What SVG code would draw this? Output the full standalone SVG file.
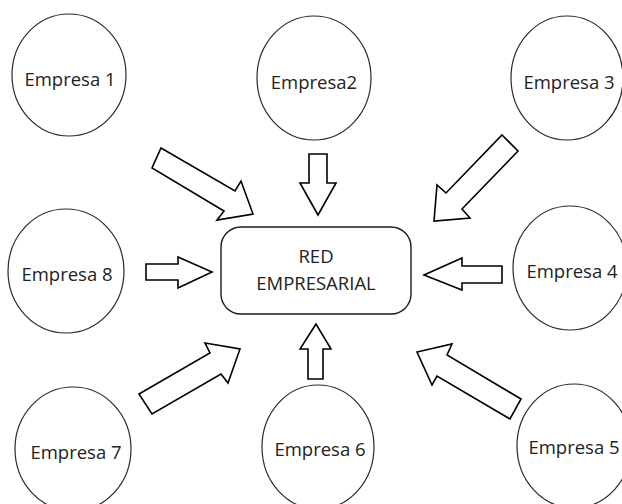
<svg xmlns="http://www.w3.org/2000/svg" width="622" height="504" viewBox="0 0 622 504">
  <style>
    .node ellipse { fill: #ffffff; stroke: #2a2a2a; stroke-width: 1.2; }
    .hub rect { fill: #ffffff; stroke: #1a1a1a; stroke-width: 1.4; }
    text { font-family: "Open Sans", "Noto Sans", "DejaVu Sans", sans-serif; font-size: 18.5px; fill: #222222; text-anchor: middle; }
    .arrows polygon { fill: #ffffff; stroke: #000000; stroke-width: 1.6; stroke-linejoin: miter; }
  </style>
  <rect width="622" height="504" fill="#ffffff"/>

  <!-- block arrows pointing into the central network -->
  <g id="connectors" class="arrows">
    <polygon points="161,148 235,191 241,181 253,214 217,220 224,211 152,168"/>
    <polygon points="309,154 327,154 327,183 336,183 318,215 300,183 309,183"/>
    <polygon points="502,135 518,151 462,209 470,218 434,221 437,185 446,193"/>
    <polygon points="146,264 178,264 178,257 212,272 178,288 178,280 146,280"/>
    <polygon points="502,266 462,266 462,258 424,275 462,290 462,283 502,283"/>
    <polygon points="139,394 210,353 205,343 240,349 228,383 221,374 152,414"/>
    <polygon points="308,379 323,379 323,349 331,349 316,324 300,349 308,349"/>
    <polygon points="521,399 447,355 452,344 417,352 432,385 437,376 510,419"/>
  </g>

  <g id="red-empresarial" class="hub">
    <rect x="221" y="227" width="190" height="87" rx="20" ry="20"/>
    <text x="316" y="263">RED</text>
    <text x="316" y="290">EMPRESARIAL</text>
  </g>

  <g id="empresa-1" class="node">
    <ellipse cx="69" cy="75" rx="57" ry="61"/>
    <text x="70" y="86">Empresa 1</text>
  </g>
  <g id="empresa-2" class="node">
    <ellipse cx="314" cy="78" rx="57" ry="62"/>
    <text x="314" y="89">Empresa2</text>
  </g>
  <g id="empresa-3" class="node">
    <ellipse cx="567" cy="78" rx="56" ry="62"/>
    <text x="569" y="89">Empresa 3</text>
  </g>
  <g id="empresa-4" class="node">
    <ellipse cx="570" cy="268" rx="57" ry="62"/>
    <text x="572" y="278">Empresa 4</text>
  </g>
  <g id="empresa-5" class="node">
    <ellipse cx="574" cy="446" rx="57" ry="62"/>
    <text x="574" y="454">Empresa 5</text>
  </g>
  <g id="empresa-6" class="node">
    <ellipse cx="318" cy="447" rx="56" ry="62"/>
    <text x="320" y="456">Empresa 6</text>
  </g>
  <g id="empresa-7" class="node">
    <ellipse cx="73" cy="449" rx="58" ry="62"/>
    <text x="76" y="459">Empresa 7</text>
  </g>
  <g id="empresa-8" class="node">
    <ellipse cx="66" cy="271" rx="58" ry="62"/>
    <text x="67" y="281">Empresa 8</text>
  </g>
</svg>
